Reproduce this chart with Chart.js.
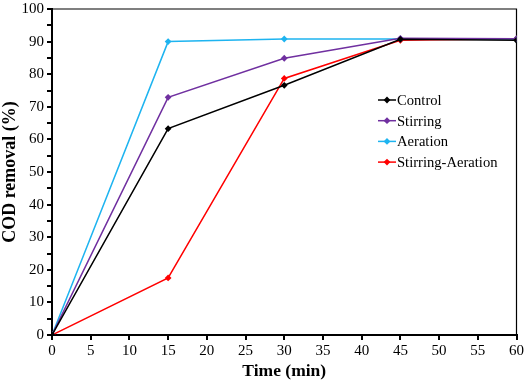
<!DOCTYPE html>
<html>
<head>
<meta charset="utf-8">
<script src="https://cdn.jsdelivr.net/npm/chart.js@4"></script>
<style>
  html, body { margin: 0; padding: 0; background: #fff; }
  #wrap { width: 526px; height: 382px; }
</style>
</head>
<body>
<div id="wrap"><canvas id="codChart"></canvas></div>
<script>
const times = [0, 15, 30, 45, 60];
const control = [0, 63.3, 76.6, 90.7, 90.4];
const stirring = [0, 72.9, 84.9, 91.0, 90.9];
const aeration = [0, 90.0, 90.8, 90.8, 90.8];
const stirringAeration = [0, 17.5, 78.7, 90.4, 90.9];
const seriesNames = ['Control', 'Stirring', 'Aeration', 'Stirring-Aeration'];
const seriesColors = ['#000000', '#7030A0', '#1EB4F0', '#FF0000'];

const serif = '"Liberation Serif", "Times New Roman", serif';

function toPoints(values) {
    return values.map((v, i) => ({ x: times[i], y: v }));
}

// legend drawn inside the plot, on the right
const insideLegend = {
    id: 'insideLegend',
    afterDatasetsDraw(chart) {
        const ctx = chart.ctx;
        const x0 = 378, x1 = 396;
        let y = 100;
        ctx.save();
        ctx.font = '14.6px ' + serif;
        ctx.textBaseline = 'middle';
        chart.data.datasets.forEach(ds => {
            ctx.strokeStyle = ds.borderColor;
            ctx.lineWidth = 1.5;
            ctx.beginPath();
            ctx.moveTo(x0, y);
            ctx.lineTo(x1, y);
            ctx.stroke();
            ctx.fillStyle = ds.borderColor;
            const cx = (x0 + x1) / 2, r = 3.4;
            ctx.beginPath();
            ctx.moveTo(cx, y - r);
            ctx.lineTo(cx + r, y);
            ctx.lineTo(cx, y + r);
            ctx.lineTo(cx - r, y);
            ctx.closePath();
            ctx.fill();
            ctx.fillStyle = '#000';
            ctx.fillText(ds.label, x1 + 1, y + 1);
            y += 20.7;
        });
        ctx.restore();
    }
};

// thin frame on top and right
const frame = {
    id: 'frame',
    beforeDatasetsDraw(chart) {
        const a = chart.chartArea, ctx = chart.ctx;
        ctx.save();
        ctx.strokeStyle = '#000';
        ctx.lineWidth = 1.2;
        ctx.beginPath();
        ctx.moveTo(a.left - 4, a.top);
        ctx.lineTo(a.right, a.top);
        ctx.lineTo(a.right, a.bottom);
        ctx.stroke();
        ctx.restore();
    }
};

const ctx = document.getElementById('codChart').getContext('2d');
new Chart(ctx, {
    type: 'line',
    data: {
        datasets: [control, stirring, aeration, stirringAeration].map((vals, i) => ({
            label: seriesNames[i],
            data: toPoints(vals),
            borderColor: seriesColors[i],
            backgroundColor: seriesColors[i],
            borderWidth: 1.5,
            pointStyle: 'rectRot',
            pointRadius: 3.4,
            pointBorderWidth: 0,
            tension: 0,
            fill: false
        }))
    },
    options: {
        responsive: true,
        maintainAspectRatio: false,
        animation: false,
        layout: { padding: { top: 0, right: 9, left: 0, bottom: 0 } },
        plugins: {
            legend: { display: false },
            tooltip: { enabled: false }
        },
        scales: {
            x: {
                type: 'linear',
                min: 0,
                max: 60,
                ticks: {
                    stepSize: 5,
                    color: '#000',
                    font: { family: serif, size: 15 },
                    padding: 2,
                    maxRotation: 0
                },
                grid: { drawOnChartArea: false, tickLength: 5, color: '#000', lineWidth: 2 },
                border: { color: '#000', width: 2 },
                title: {
                    display: true,
                    text: 'Time (min)',
                    color: '#000',
                    font: { family: serif, size: 17.5, weight: 'bold' },
                    padding: { top: 2, bottom: 0 }
                },
                afterFit(scale) { scale.height = 47; }
            },
            y: {
                min: 0,
                max: 100,
                ticks: {
                    stepSize: 5,
                    color: '#000',
                    font: { family: serif, size: 15, lineHeight: 0.8 },
                    padding: 3,
                    callback: v => (v % 10 === 0 ? v : '')
                },
                grid: { drawOnChartArea: false, tickLength: 5, color: '#000', lineWidth: 2 },
                border: { color: '#000', width: 2 },
                title: {
                    display: true,
                    text: 'COD removal (%)',
                    color: '#000',
                    font: { family: serif, size: 18, weight: 'bold' },
                    padding: { top: 0, bottom: 1 }
                },
                afterFit(scale) { scale.width = 52; }
            }
        }
    },
    plugins: [frame, insideLegend]
});
</script>
</body>
</html>
